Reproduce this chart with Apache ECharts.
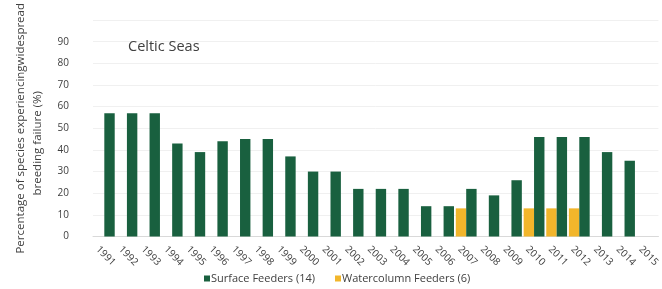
<!DOCTYPE html>
<html>
<head>
<meta charset="utf-8">
<script src="https://cdn.jsdelivr.net/npm/echarts@6/dist/echarts.min.js"></script>
<style>
  html, body { margin: 0; padding: 0; background: #fff; }
  #chart { width: 662px; height: 289px; }
</style>
</head>
<body>
<div id="chart"></div>
<script>
// years on the category axis
const years = ['1991', '1992', '1993', '1994', '1995', '1996', '1997', '1998', '1999', '2000',
  '2001', '2002', '2003', '2004', '2005', '2006', '2007', '2008', '2009', '2010',
  '2011', '2012', '2013', '2014', '2015'];

// % of species with widespread breeding failure
const surfaceFeeders = [57, 57, 57, 43, 39, 44, 45, 45, 37, 30,
  30, 22, 22, 22, 14, 14, 22, 19, 26, 46,
  46, 46, 39, 35, null];
const watercolumnFeeders = [null, null, null, null, null, null, null, null, null, null,
  null, null, null, null, null, null, 13, null, null, 13,
  13, 13, null, null, null];

const yTicks = { min: 0, max: 100, step: 10 };

const FONT = '"Open Sans", "Noto Sans", sans-serif';
const TEXT = '#404040';

const chart = echarts.init(document.getElementById('chart'));

chart.setOption({
  animation: false,
  textStyle: { fontFamily: FONT },
  title: {
    text: 'Celtic Seas',
    left: 123,
    top: 34,
    textStyle: { fontSize: 14.5, fontWeight: 'normal', color: TEXT, fontFamily: FONT }
  },
  legend: {
    data: ['Surface Feeders (14)', 'Watercolumn Feeders (6)'],
    left: 204,
    top: 273,
    padding: 0,
    icon: 'rect',
    itemWidth: 6,
    itemHeight: 6,
    itemGap: 20,
    textStyle: { fontSize: 11, color: TEXT, fontFamily: FONT, padding: [0, 0, 0, -4] }
  },
  grid: { left: 93, right: -9, top: 11, bottom: 52.5 },
  xAxis: {
    type: 'category',
    data: years,
    axisTick: { show: false },
    axisLine: { lineStyle: { color: '#d9d9d9' } },
    axisLabel: {
      interval: 0,
      rotate: -45,
      margin: 18,
      fontSize: 10,
      color: TEXT,
      padding: [9.5, 0, -9.5, -9.5]
    }
  },
  yAxis: {
    type: 'value',
    min: yTicks.min,
    max: yTicks.max,
    interval: yTicks.step,
    axisLine: { show: false },
    axisTick: { show: false },
    splitLine: { lineStyle: { color: '#f0f0f0' } },
    axisLabel: { fontSize: 10, color: TEXT, margin: 24, showMaxLabel: false },
    name: '{a|Percentage of species experiencingwidespread}\n{b|breeding failure (%)}',
    nameLocation: 'middle',
    nameRotate: 90,
    nameGap: 34,
    nameTextStyle: {
      color: TEXT,
      fontSize: 11.5,
      lineHeight: 17,
      rich: {
        a: { fontSize: 11.5, color: TEXT, fontFamily: FONT, lineHeight: 17 },
        b: { fontSize: 11.5, color: TEXT, fontFamily: FONT, lineHeight: 17, align: 'left', padding: [0, 0, 0, 58] }
      }
    }
  },
  series: [
    {
      name: 'Watercolumn Feeders (6)',
      type: 'bar',
      data: watercolumnFeeders,
      barGap: '0%',
      barCategoryGap: '8%',
      itemStyle: { color: '#F2B62B' }
    },
    {
      name: 'Surface Feeders (14)',
      type: 'bar',
      data: surfaceFeeders,
      barGap: '0%',
      barCategoryGap: '8%',
      itemStyle: { color: '#19603F' }
    }
  ]
});
</script>
</body>
</html>
